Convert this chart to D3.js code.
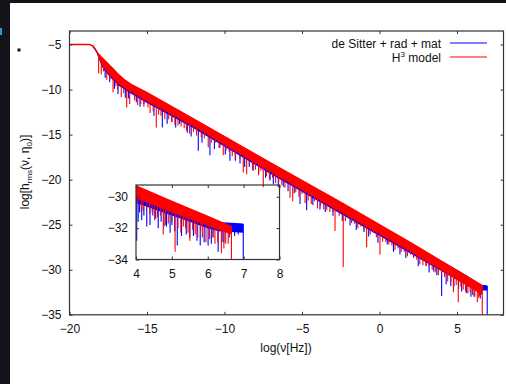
<!DOCTYPE html>
<html>
<head>
<meta charset="utf-8">
<script src="https://cdnjs.cloudflare.com/ajax/libs/d3/7.8.5/d3.min.js"></script>
<style>
  body { margin: 0; background: #121419; }
  svg { display: block; font-family: "Liberation Sans", Arial, Helvetica, sans-serif; }
</style>
</head>
<body>
<svg id="chart"></svg>
<script>
// ---- main panel data: [log nu, log h] ----
const xTicks = [-20, -15, -10, -5, 0, 5];
const yTicks = [-35, -30, -25, -20, -15, -10, -5];

// upper edge of the H^3 (red) curve, incl. the flat plateau
const redTop = [[-20, -5], [-18.7, -5], [-18.5, -5.15], [-18.35, -5.5], [-18.2, -5.9], [-18.0, -6.3],
  [-17.6, -7.0], [-17.2, -7.7], [-16.8, -8.4], [-16.5, -8.85], [-16, -9.45], [-15, -10.35],
  [-12.2, -13.05], [-7, -18.15], [-2.6, -22.4], [2, -27.0], [6.63, -31.75]];
// lower edge of the dense red band
const redLow = [[-18.2, -6.1], [-17.9, -7.3], [-17.4, -8.4], [-16.8, -9.4], [-16, -10.3], [-15, -11.3],
  [-12, -14.1], [-7, -19.2], [-2.6, -23.5], [2, -28.0], [6.63, -32.8]];
const redSpikes = [[-18.12, -8.2], [-17.95, -8.3], [-17.6, -8.9], [-17.19, -10.3], [-16.9, -10.0],
  [-16.66, -10.85], [-16.31, -12.0], [-16.12, -11.6], [-15.8, -11.2], [-15.4, -11.6], [-14.94, -12.0],
  [-14.6, -12.4], [-14.4, -14.2], [-14.1, -12.9], [-13.6, -13.3], [-13.2, -13.9], [-12.8, -14.1],
  [-12.46, -14.55], [-12.0, -14.7], [-11.5, -15.3], [-11.05, -16.4], [-10.6, -15.9], [-10.08, -17.3],
  [-9.7, -16.9], [-9.3, -17.6], [-8.79, -19.2], [-8.57, -19.4], [-8.2, -18.9], [-7.8, -19.5],
  [-7.5, -20.85], [-7.1, -19.9], [-6.7, -20.4], [-6.3, -20.6], [-5.77, -22.0], [-5.6, -22.4],
  [-5.2, -21.9], [-4.8, -22.6], [-4.4, -22.7], [-4.0, -23.2], [-3.6, -23.3], [-3.2, -23.6],
  [-2.87, -25.7], [-2.34, -29.7], [-2.0, -24.3], [-1.6, -24.9], [-1.2, -25.2], [-0.83, -27.5],
  [-0.4, -25.9], [0.03, -28.3], [0.4, -26.9], [0.8, -27.3], [1.2, -27.6], [1.6, -28.0], [2.0, -28.3],
  [2.4, -28.9], [2.8, -29.5], [3.2, -29.6], [3.6, -30.3], [4.0, -30.5], [4.4, -31.3], [4.77, -32.5],
  [5.08, -33.6], [5.4, -32.2], [5.7, -32.6], [6.0, -32.8], [6.31, -33.6], [6.45, -32.9], [6.63, -35],
  // shallower teeth of the comb
  [-17.8, -8.0], [-17.4, -8.9], [-17.0, -9.6], [-16.5, -10.4], [-15.6, -11.7], [-15.2, -11.9],
  [-14.8, -12.6], [-14.25, -12.8], [-13.85, -13.3], [-13.4, -13.6], [-13.0, -14.0], [-12.6, -14.3],
  [-12.25, -14.9], [-11.8, -15.1], [-11.3, -15.4], [-10.85, -15.9], [-10.35, -16.5], [-9.9, -16.8],
  [-9.5, -17.4], [-9.0, -17.7], [-8.4, -18.3], [-8.0, -18.9], [-7.65, -19.0], [-7.3, -19.6],
  [-6.9, -19.8], [-6.5, -20.3], [-6.1, -20.9], [-5.4, -21.4], [-5.0, -21.6], [-4.6, -22.3],
  [-4.2, -22.4], [-3.8, -22.9], [-3.4, -23.4], [-3.0, -23.6], [-2.6, -24.0], [-2.2, -24.6],
  [-1.8, -24.8], [-1.4, -25.4], [-1.0, -25.6], [-0.6, -26.1], [-0.2, -26.4], [0.2, -26.9],
  [0.6, -27.2], [1.0, -27.8], [1.4, -28.0], [1.8, -28.5], [2.2, -28.7], [2.6, -29.4], [3.0, -29.6],
  [3.4, -30.0], [3.8, -30.6], [4.2, -30.8], [4.6, -31.4], [4.95, -31.7], [5.25, -31.9], [5.55, -32.4],
  [5.85, -32.5], [6.15, -33.0], [6.4, -33.1]];

// de Sitter + rad + mat (blue)
const blueTop = [[-18.5, -5.15], [-18.35, -5.5], [-18.2, -5.95], [-18.0, -6.4],
  [-17.6, -7.1], [-17.2, -7.85], [-16.8, -8.55], [-16, -9.6], [-15, -10.5], [-12.2, -13.2],
  [-7, -18.3], [-2.6, -22.55], [2, -27.15], [5.5, -30.6], [6.2, -31.35], [6.3, -31.75], [6.95, -31.8]];
const blueLow = [[-18.2, -6.2], [-17.9, -7.5], [-17.4, -8.6], [-16.8, -9.6], [-16, -10.5], [-15, -11.5],
  [-12, -14.3], [-7, -19.4], [-2.6, -23.7], [2, -28.2], [6.2, -32.3], [6.95, -32.3]];
const blueSpikes = [[-17.41, -9.2], [-16.87, -10.5], [-16.4, -10.9], [-15.69, -11.4], [-15.2, -11.6],
  [-14.01, -14.2], [-13.4, -13.6], [-12.9, -13.8], [-12.4, -14.8], [-11.69, -16.8], [-10.94, -17.3],
  [-10.3, -16.5], [-9.65, -17.9], [-9.0, -18.2], [-8.4, -18.6], [-7.06, -20.1], [-6.53, -20.85],
  [-6.21, -20.8], [-5.13, -22.7], [-4.7, -23.4], [-3.84, -23.3], [-3.0, -24.0], [-1.9, -25.1],
  [-1.0, -25.8], [0.5, -27.2], [1.32, -28.3], [2.2, -28.6], [3.0, -29.5], [3.5, -30.2], [4.01, -32.9],
  [4.3, -31.6], [4.6, -31.8], [5.3, -32.4], [5.9, -33.0], [6.5, -33.2], [6.95, -35],
  [-17.7, -8.7], [-17.1, -9.9], [-16.2, -11.0], [-15.45, -11.9], [-14.55, -12.9], [-13.7, -13.8],
  [-13.15, -14.2], [-12.15, -15.2], [-11.45, -15.9], [-10.65, -16.6], [-9.95, -17.2], [-9.3, -17.9],
  [-8.7, -18.6], [-8.15, -19.0], [-7.8, -19.3], [-7.35, -19.8], [-6.85, -20.5], [-5.9, -21.3],
  [-5.5, -21.5], [-4.3, -22.8], [-3.5, -23.6], [-2.4, -24.6], [-1.5, -25.6], [-0.7, -26.3],
  [-0.1, -27.0], [0.9, -28.0], [1.7, -28.7], [2.5, -29.6], [3.2, -30.3], [3.7, -30.6], [4.8, -31.9],
  [5.1, -32.1], [5.6, -32.6], [6.1, -33.0]];

// ---- inset data ----
const insetXTicks = [4, 5, 6, 7, 8];
const insetYTicks = [-34, -32, -30];
const insetRedTop = [[4, -29.3], [5, -30.3], [6, -31.25], [6.66, -31.9]];
const insetRedLow = [[4, -30.1], [5, -31.0], [6, -31.85], [6.66, -32.4]];
const insetRedSpikes = [[4.05, -30.4], [4.15, -30.8], [4.3, -30.7], [4.45, -31.0], [4.6, -31.3],
  [4.76, -32.4], [4.9, -31.7], [5.09, -33.5], [5.25, -32.3], [5.38, -32.0], [5.5, -32.8], [5.65, -32.4],
  [5.85, -32.6], [6.05, -32.7], [6.2, -33.0], [6.38, -33.6], [6.5, -33.0], [6.66, -34],
  [4.2, -30.9], [4.38, -31.1], [4.52, -31.5], [4.68, -31.2], [4.82, -31.8], [5.0, -31.6], [5.17, -32.0],
  [5.32, -31.9], [5.45, -32.3], [5.58, -32.1], [5.72, -32.6], [5.8, -32.2], [5.95, -32.9], [6.12, -32.6],
  [6.28, -32.9], [6.45, -33.3], [6.57, -33.0]];
const insetBlueTop = [[4, -29.4], [5, -30.4], [6, -31.35], [6.3, -31.65], [6.99, -31.75]];
const insetBlueLow = [[4, -30.4], [5, -31.2], [6, -32.0], [6.3, -32.2], [6.99, -32.3]];
const insetBlueSpikes = [[4.02, -32.8], [4.1, -31.0], [4.22, -31.2], [4.39, -31.8], [4.55, -31.4],
  [4.7, -31.6], [4.85, -31.9], [5.0, -31.8], [5.15, -33.1], [5.4, -32.4], [5.6, -32.5], [5.79, -33.1],
  [6.01, -33.1], [6.15, -32.6], [6.29, -33.5], [6.45, -32.9], [6.6, -32.6], [6.99, -34],
  [4.06, -31.6], [4.16, -31.5], [4.3, -31.9], [4.47, -31.2], [4.62, -32.0], [4.78, -31.9], [4.95, -32.3],
  [5.08, -32.2], [5.27, -32.5], [5.5, -32.6], [5.7, -32.8], [5.9, -32.9], [6.1, -33.0], [6.4, -32.9],
  [6.75, -32.5], [6.85, -32.4]];

const legendItems = [["de Sitter + rad + mat", "#0000ff"], ["H", "#ff0000"]];

const width = 506, height = 384;
const svg = d3.select("#chart").attr("width", width).attr("height", height);

// slide background + white page
svg.append("rect").attr("width", width).attr("height", height).attr("fill", "#121419");
svg.append("rect").attr("x", 10).attr("y", 3).attr("width", width - 10).attr("height", height - 3).attr("fill", "#fff");
svg.append("rect").attr("x", 0).attr("y", 28).attr("width", 2).attr("height", 7).attr("fill", "#2b9ad8");
svg.append("rect").attr("x", 17.5).attr("y", 48.5).attr("width", 3).attr("height", 3).attr("fill", "#111");

let x = d3.scaleLinear().domain([-20, 8]).range([69.5, 503.5]);
let y = d3.scaleLinear().domain([-35, -3.5]).range([314.8, 31]);

let ix = d3.scaleLinear().domain([4, 8]).range([136, 279.5]);
let iy = d3.scaleLinear().domain([-34, -29.25]).range([259.5, 185]);

function drawSeries(g, sx, sy, top, low, spikes, color) {
    let topAt = d3.scaleLinear().domain(top.map(d => d[0])).range(top.map(d => d[1]));
    let line = d3.line().x(d => sx(d[0])).y(d => sy(d[1]));
    let band = top.filter(d => d[0] >= low[0][0]).concat(low.slice().reverse());
    g.append("path").attr("d", line(band) + "Z").attr("fill", color);
    g.append("path").attr("d", line(top)).attr("fill", "none")
        .attr("stroke", color).attr("stroke-width", 1.4);
    g.selectAll(null)
        .data(spikes)
        .enter()
        .append("line")
        .attr("x1", d => sx(d[0])).attr("x2", d => sx(d[0]))
        .attr("y1", d => sy(topAt(d[0])))
        .attr("y2", d => sy(d[1]))
        .attr("stroke", color)
        .attr("stroke-width", 1.1);
}

function frameAxes(g, sx, sy, xt, yt) {
    let fmt = d3.format("d");
    let x0 = sx.range()[0], x1 = sx.range()[1], y0 = sy.range()[0], y1 = sy.range()[1];
    g.append("g").attr("transform", `translate(0,${y0})`)
        .call(d3.axisBottom(sx).tickValues(xt).tickSize(-3).tickPadding(10).tickFormat(fmt));
    g.append("g").attr("transform", `translate(0,${y1})`)
        .call(d3.axisTop(sx).tickValues(xt).tickSize(-3).tickFormat(""));
    g.append("g").attr("transform", `translate(${x0},0)`)
        .call(d3.axisLeft(sy).tickValues(yt).tickSize(-3).tickPadding(8).tickFormat(fmt));
    g.append("g").attr("transform", `translate(${x1},0)`)
        .call(d3.axisRight(sy).tickValues(yt).tickSize(-3).tickFormat(""));
    g.selectAll(".domain").remove();
    g.selectAll(".tick line").attr("stroke", "#333");
    g.selectAll(".tick text").attr("font-size", 12).attr("fill", "#111")
        .attr("font-family", "Liberation Sans, Arial, sans-serif");
    g.append("rect").attr("x", x0).attr("y", y1).attr("width", x1 - x0).attr("height", y0 - y1)
        .attr("fill", "none").attr("stroke", "#333").attr("stroke-width", 1.2);
}

// main panel
let main = svg.append("g");
drawSeries(main, x, y, blueTop, blueLow, blueSpikes, "#0000ff");
drawSeries(main, x, y, redTop, redLow, redSpikes, "#ff0000");
frameAxes(main, x, y, xTicks, yTicks);

// inset
let inset = svg.append("g");
drawSeries(inset, ix, iy, insetBlueTop, insetBlueLow, insetBlueSpikes, "#0000ff");
drawSeries(inset, ix, iy, insetRedTop, insetRedLow, insetRedSpikes, "#ff0000");
frameAxes(inset, ix, iy, insetXTicks, insetYTicks);

// axis titles
svg.append("text").attr("x", 286).attr("y", 352).attr("text-anchor", "middle")
    .attr("font-size", 12).attr("fill", "#111").text("log(ν[Hz])");

let yl = svg.append("text").attr("transform", "translate(29,172) rotate(-90)")
    .attr("text-anchor", "middle").attr("font-size", 12).attr("fill", "#111");
yl.append("tspan").text("log[h");
yl.append("tspan").attr("font-size", 8).attr("dy", 3).text("rms");
yl.append("tspan").attr("dy", -3).text("(ν, η");
yl.append("tspan").attr("font-size", 8).attr("dy", 3).text("0");
yl.append("tspan").attr("dy", -3).text(")]");

// legend
let leg = svg.append("g");
legendItems.forEach((d, i) => {
    let ly = 43 + i * 14;
    let t = leg.append("text").attr("x", 441).attr("y", ly + 4.5).attr("text-anchor", "end")
        .attr("font-size", 12).attr("fill", "#111");
    t.append("tspan").text(d[0]);
    if (i === 1) {
        t.append("tspan").attr("font-size", 8).attr("dy", -5).text("3");
        t.append("tspan").attr("dy", 5).text(" model");
    }
    leg.append("line").attr("x1", 450).attr("x2", 487).attr("y1", ly).attr("y2", ly)
        .attr("stroke", d[1]).attr("stroke-width", 1.2);
});
</script>
</body>
</html>
